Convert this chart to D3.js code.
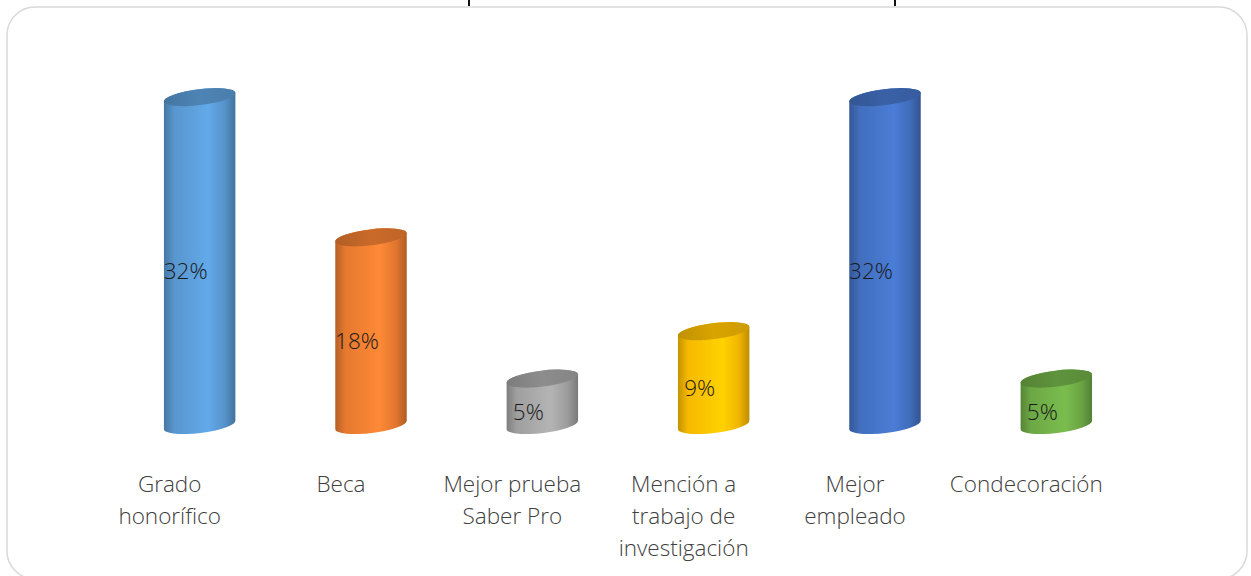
<!DOCTYPE html>
<html>
<head>
<meta charset="utf-8">
<script src="https://cdn.jsdelivr.net/npm/d3@7"></script>
<style>
  html, body { margin: 0; padding: 0; background: #fff; }
  svg { display: block; }
</style>
</head>
<body>
<div id="chart"></div>
<script>
// chart data
const categories = ['Grado honorífico', 'Beca', 'Mejor prueba Saber Pro', 'Mención a trabajo de investigación', 'Mejor empleado', 'Condecoración'];
const tickLines = [['Grado', 'honorífico'], ['Beca'], ['Mejor prueba', 'Saber Pro'], ['Mención a', 'trabajo de', 'investigación'], ['Mejor', 'empleado'], ['Condecoración']];
const values = [0.318, 0.182, 0.045, 0.091, 0.318, 0.045];
const colors = ['#5b9bd5', '#ed7d31', '#a5a5a5', '#ffc000', '#4472c4', '#70ad47'];

const width = 1251, height = 576;
const svg = d3.select('#chart').append('svg')
  .attr('width', width)
  .attr('height', height);

const defs = svg.append('defs');

// frame of the chart area
svg.append('rect')
  .attr('x', 7).attr('y', 7)
  .attr('width', 1240).attr('height', 572)
  .attr('rx', 28).attr('ry', 28)
  .attr('fill', '#fff')
  .attr('stroke', '#d9d9d9')
  .attr('stroke-width', 1.5);

// leftovers of the cut-off title above the frame
[469, 895].forEach(x => {
  svg.append('line')
    .attr('x1', x).attr('x2', x)
    .attr('y1', 0).attr('y2', 6)
    .attr('stroke', '#111')
    .attr('stroke-width', 2);
});

const x = d3.scaleBand()
  .domain(categories)
  .range([114, 1142])
  .padding(0);

const y = d3.scaleLinear()
  .domain([0, 0.35])
  .range([425, 425 - 0.35 * 1031]);

const rx = 36, ry = 8, tilt = -7;
const rad = tilt * Math.PI / 180;
const dx = rx * Math.cos(rad), dy = rx * Math.sin(rad);

// gradients per bar
colors.forEach((c, i) => {
  const base = d3.color(c);
  const g = defs.append('linearGradient')
    .attr('id', `body-${i}`)
    .attr('x1', '0%').attr('x2', '100%')
    .attr('y1', '0%').attr('y2', '0%');
  [[0, base.darker(0.75)], [0.14, base.darker(0.1)], [0.62, base.brighter(0.25)], [0.85, base.darker(0.15)], [1, base.darker(0.85)]]
    .forEach(([o, col]) => g.append('stop').attr('offset', o).attr('stop-color', col));

  const t = defs.append('linearGradient')
    .attr('id', `top-${i}`)
    .attr('x1', '0%').attr('x2', '100%')
    .attr('y1', '0%').attr('y2', '0%');
  [[0, base.darker(0.8)], [0.5, base.darker(0.45)], [1, base.darker(0.6)]]
    .forEach(([o, col]) => t.append('stop').attr('offset', o).attr('stop-color', col));
});

const bars = svg.append('g')
  .selectAll('g')
  .data(categories)
  .enter()
  .append('g');

bars.append('path')
  .attr('d', (d, i) => {
    const cx = x(d) + x.bandwidth() / 2;
    const y0 = y(0), y1 = y(values[i]);
    return `M${cx - dx},${y1 - dy} L${cx - dx},${y0 - dy} ` +
      `A${rx},${ry} ${tilt} 0 0 ${cx + dx},${y0 + dy} ` +
      `L${cx + dx},${y1 + dy} ` +
      `A${rx},${ry} ${tilt} 0 0 ${cx - dx},${y1 - dy} Z`;
  })
  .attr('fill', (d, i) => `url(#body-${i})`);

bars.append('ellipse')
  .attr('cx', 0).attr('cy', 0)
  .attr('rx', rx).attr('ry', ry)
  .attr('transform', (d, i) => `translate(${x(d) + x.bandwidth() / 2},${y(values[i])}) rotate(${tilt})`)
  .attr('fill', (d, i) => `url(#top-${i})`);

// value labels
bars.append('text')
  .attr('x', d => x(d) + x.bandwidth() / 2 - 14)
  .attr('y', (d, i) => (y(0) + y(values[i])) / 2 + 12)
  .attr('text-anchor', 'middle')
  .attr('dominant-baseline', 'middle')
  .attr('font-family', '"Open Sans", "Noto Sans", sans-serif')
  .attr('font-weight', 300)
  .attr('font-size', 22.5)
  .attr('fill', '#1a1a1a')
  .text((d, i) => d3.format('.0%')(values[i]));

// category labels
const labels = svg.append('g')
  .selectAll('text')
  .data(categories)
  .enter()
  .append('text')
  .attr('text-anchor', 'middle')
  .attr('font-family', '"Open Sans", "Noto Sans", sans-serif')
  .attr('font-weight', 300)
  .attr('font-size', 22.5)
  .attr('fill', '#404040');

labels.each(function(d, i) {
  const cx = x(d) + x.bandwidth() / 2 - 30;
  d3.select(this).selectAll('tspan')
    .data(tickLines[i])
    .enter()
    .append('tspan')
    .attr('x', cx)
    .attr('y', (l, j) => 492 + j * 32)
    .text(l => l);
});
</script>
</body>
</html>
